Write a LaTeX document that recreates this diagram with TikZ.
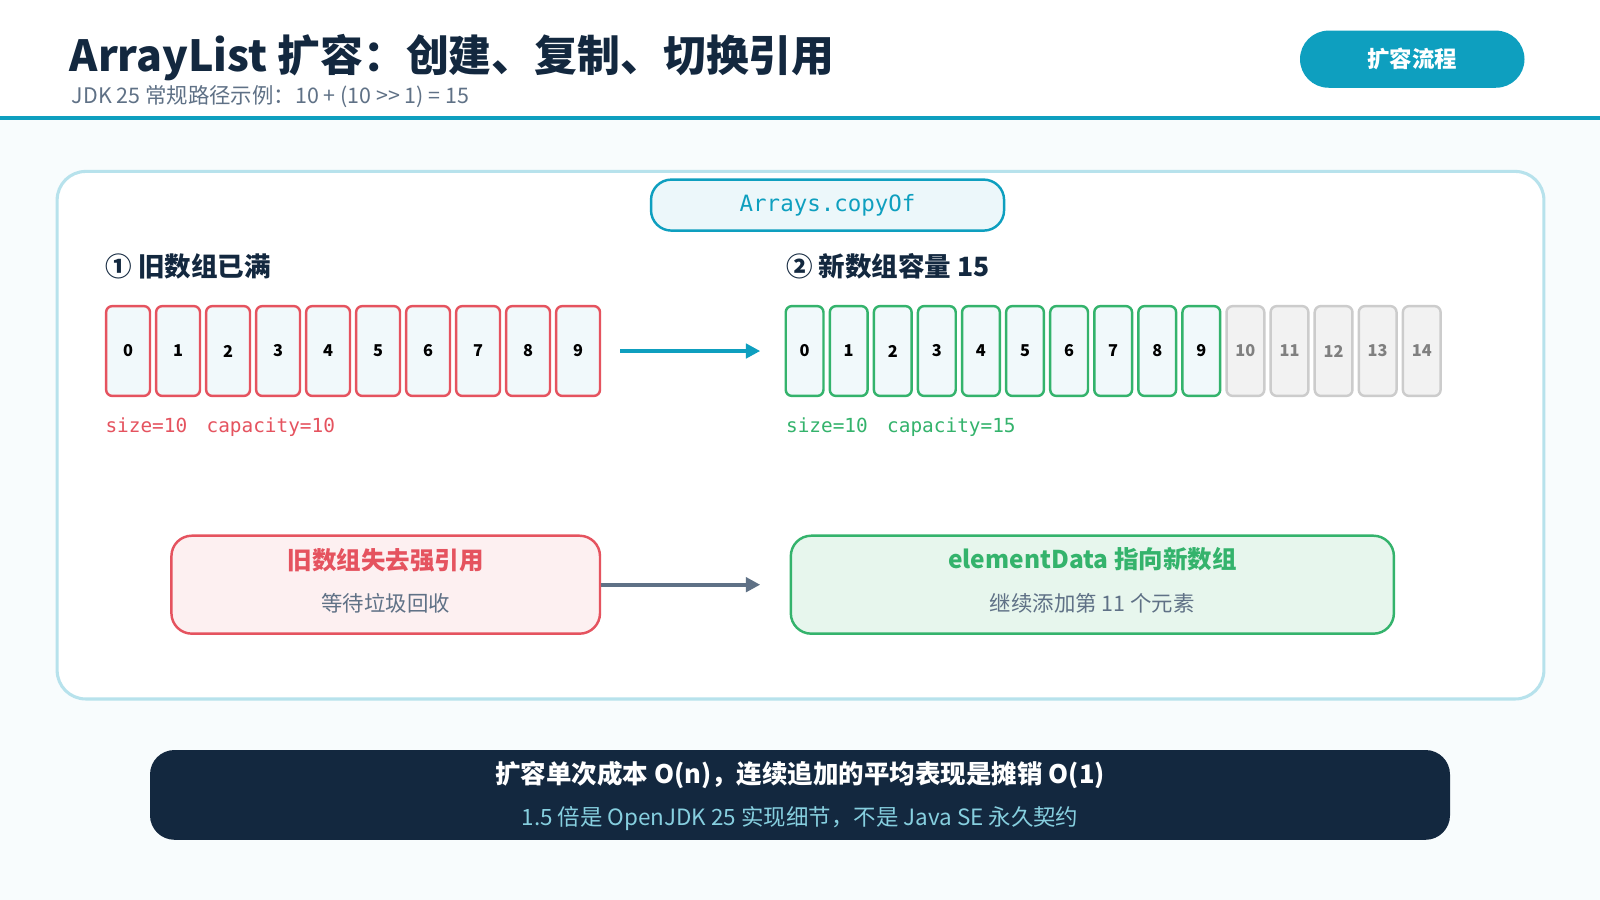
\documentclass[tikz,border=0pt]{standalone}
\usepackage{fontspec}
\setmainfont{Noto Sans CJK SC}
\newfontfamily\codefont{DejaVu Sans Mono}
\usetikzlibrary{positioning,arrows.meta}
\definecolor{ink}{HTML}{13283F}
\definecolor{teal}{HTML}{0E9FBF}
\definecolor{oldred}{HTML}{E5535F}
\definecolor{newgreen}{HTML}{34B36C}
\definecolor{slate}{HTML}{5F7186}
\tikzset{
  oldcell/.style={draw=oldred, fill=teal!6, line width=1.2pt, rounded corners=3pt,
    minimum width=21.5pt, minimum height=44pt, inner sep=0pt, font=\footnotesize\bfseries},
  newcell/.style={draw=newgreen, fill=teal!6, line width=1.2pt, rounded corners=3pt,
    minimum width=18.5pt, minimum height=44pt, inner sep=0pt, font=\footnotesize\bfseries},
  emptycell/.style={newcell, draw=black!20, fill=black!5, text=black!50},
  note/.style={rounded corners=10pt, line width=1.2pt, minimum height=48pt},
  flow/.style={line width=2pt, -{Triangle[length=7pt,width=7pt]}}
}
\begin{document}
\begin{tikzpicture}[x=0.5pt, y=-0.5pt]
  \useasboundingbox (0,0) rectangle (1568,882);
  \fill[teal!3] (0,0) rectangle (1568,882);
  \fill[white] (0,0) rectangle (1568,115);
  \draw[teal, line width=2pt] (0,116) -- (1568,116);

  % header
  \node[anchor=base west, inner sep=0pt, text=ink, font=\fontsize{21}{25}\selectfont\bfseries] (title) at (68,70) {ArrayList 扩容：创建、复制、切换引用};
  \node[anchor=base west, inner sep=0pt, text=slate, font=\fontsize{10.5}{12}\selectfont] (subtitle) at (70,101) {JDK 25 常规路径示例：10 + (10 >{}> 1) = 15};
  \node[fill=teal, rounded corners=14pt, minimum width=110pt, minimum height=28pt, text=white, font=\fontsize{11}{13}\selectfont\bfseries] (badge) at (1384,58) {扩容流程};

  % panel
  \draw[draw=teal!30, fill=white, line width=1.5pt, rounded corners=14pt] (56,168) rectangle (1513,685);
  \node[draw=teal, fill=teal!8, line width=1.2pt, rounded corners=10pt, minimum width=173pt, minimum height=25pt, text=teal, font=\codefont\fontsize{11}{13}\selectfont] (copyof) at (811,201) {Arrays.copyOf};

  \node[anchor=base west, inner sep=0pt, text=ink, font=\fontsize{13}{15}\selectfont\bfseries] (oldhead) at (103,271) {① 旧数组已满};
  \node[anchor=base west, inner sep=0pt, text=ink, font=\fontsize{13}{15}\selectfont\bfseries] (newhead) at (770,271) {② 新数组容量 15};

  % old array
  \foreach \i in {0,...,9}
    \node[oldcell] (old\i) at (125.5+49*\i,344) {\i};
  % new array
  \foreach \i in {0,...,9}
    \node[newcell] (new\i) at (788.5+43.2*\i,344) {\i};
  \foreach \i in {10,...,14}
    \node[emptycell] (new\i) at (788.5+43.2*\i,344) {\i};

  \coordinate (copyto) at (745,344);
  \draw[flow, teal] (608,344) -- (copyto);

  \node[anchor=base west, inner sep=0pt, text=oldred, font=\codefont\fontsize{9.5}{11}\selectfont] (oldsize) at (103,424) {size=10\quad capacity=10};
  \node[anchor=base west, inner sep=0pt, text=newgreen, font=\codefont\fontsize{9.5}{11}\selectfont] (newsize) at (770,424) {size=10\quad capacity=15};

  % reference switch
  \node[note, draw=oldred, fill=oldred!9, minimum width=210pt] (oldref) at (378,573) {};
  \node[text=oldred, font=\fontsize{12}{14}\selectfont\bfseries] at (378,549) {旧数组失去强引用};
  \node[text=slate, font=\fontsize{10.5}{12}\selectfont] at (378,591) {等待垃圾回收};
  \node[note, draw=newgreen, fill=newgreen!12, minimum width=295.5pt] (newref) at (1070.5,573) {};
  \node[text=newgreen, font=\fontsize{12}{14}\selectfont\bfseries] at (1070.5,548) {elementData 指向新数组};
  \node[text=slate, font=\fontsize{10.5}{12}\selectfont] at (1070.5,591) {继续添加第 11 个元素};
  \coordinate (switchto) at (745,573);
  \draw[flow, slate] (oldref.east) -- (switchto);

  % summary
  \node[fill=ink, rounded corners=12pt, minimum width=637pt, minimum height=44pt] (summary) at (784,779) {};
  \node[text=white, font=\fontsize{12.5}{15}\selectfont\bfseries] at (784,759) {扩容单次成本 O(n)，连续追加的平均表现是摊销 O(1)};
  \node[text=teal!50, font=\fontsize{11}{13}\selectfont] at (784,802) {1.5 倍是 OpenJDK 25 实现细节，不是 Java SE 永久契约};
\end{tikzpicture}
\end{document}
